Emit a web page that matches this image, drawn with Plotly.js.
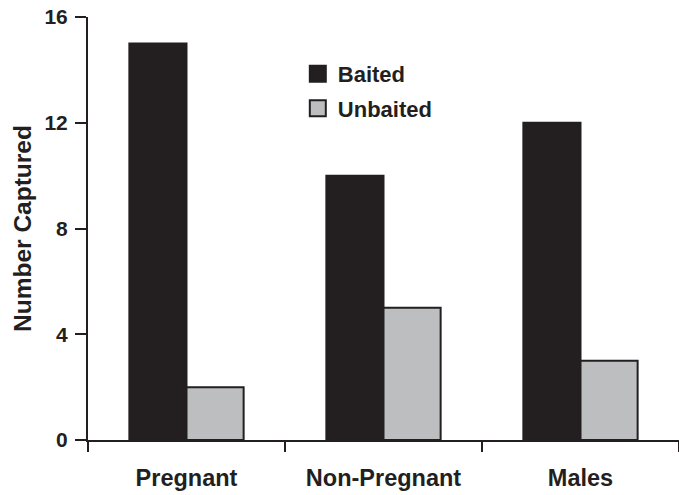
<!DOCTYPE html>
<html><head><meta charset="utf-8">
<script src="https://cdn.plot.ly/plotly-3.0.1.min.js"></script>
<style>body{margin:0;background:#fff}</style>
</head><body>
<div id="chart" style="width:679px;height:495px"></div>
<script>
const categories = ["Pregnant", "Non-Pregnant", "Males"];
const baited = [15, 10, 12];
const unbaited = [2, 5, 3];
const yTicks = [0, 4, 8, 12, 16];
const seriesNames = ["Baited", "Unbaited"];
const seriesColors = ["#231f20", "#bcbec0"];
const edge = "#231f20";

const bars = [baited, unbaited].map((vals, i) => ({
  type: "bar", name: seriesNames[i], x: categories, y: vals, showlegend: false,
  marker: {color: seriesColors[i], line: {color: edge, width: 2}}
}));
const legendItems = seriesNames.map((n, i) => ({
  type: "scatter", mode: "markers", name: n, x: [null], y: [null],
  legendgroup: "g" + i, showlegend: true,
  marker: {symbol: "square", size: 16, color: seriesColors[i], line: {color: edge, width: 2}}
}));

const layout = {
  width: 679, height: 495,
  margin: {l: 88, r: 0, t: 17, b: 55},
  paper_bgcolor: "#fff", plot_bgcolor: "#fff",
  barmode: "group", bargap: 0.42, bargroupgap: 0,
  font: {family: "Liberation Sans, Arial, sans-serif", color: edge},
  showlegend: true,
  legend: {x: 0.355, y: 0.915, xanchor: "left", yanchor: "top",
           font: {size: 22, weight: "bold", color: edge},
           bgcolor: "rgba(0,0,0,0)", tracegroupgap: 3, itemwidth: 30, itemsizing: "trace"},
  xaxis: {showline: true, linecolor: edge, linewidth: 2,
          ticks: "outside", tickson: "boundaries", ticklen: 10, tickwidth: 2, tickcolor: edge,
          ticklabelstandoff: 16,
          tickfont: {size: 23.5, weight: "bold", color: edge}, showgrid: false, zeroline: false},
  yaxis: {range: [0, 16], tickvals: yTicks, ticktext: yTicks.map(String),
          showline: true, linecolor: edge, linewidth: 2,
          ticks: "outside", ticklen: 11, tickwidth: 2, tickcolor: edge,
          ticklabelstandoff: 3,
          tickfont: {size: 21, weight: "bold", color: edge}, showgrid: false, zeroline: false,
          title: {text: "Number Captured", font: {size: 24.5, weight: "bold", color: edge}, standoff: 6}}
};
Plotly.newPlot("chart", bars.concat(legendItems), layout, {displayModeBar: false, staticPlot: true});
</script>
</body></html>
